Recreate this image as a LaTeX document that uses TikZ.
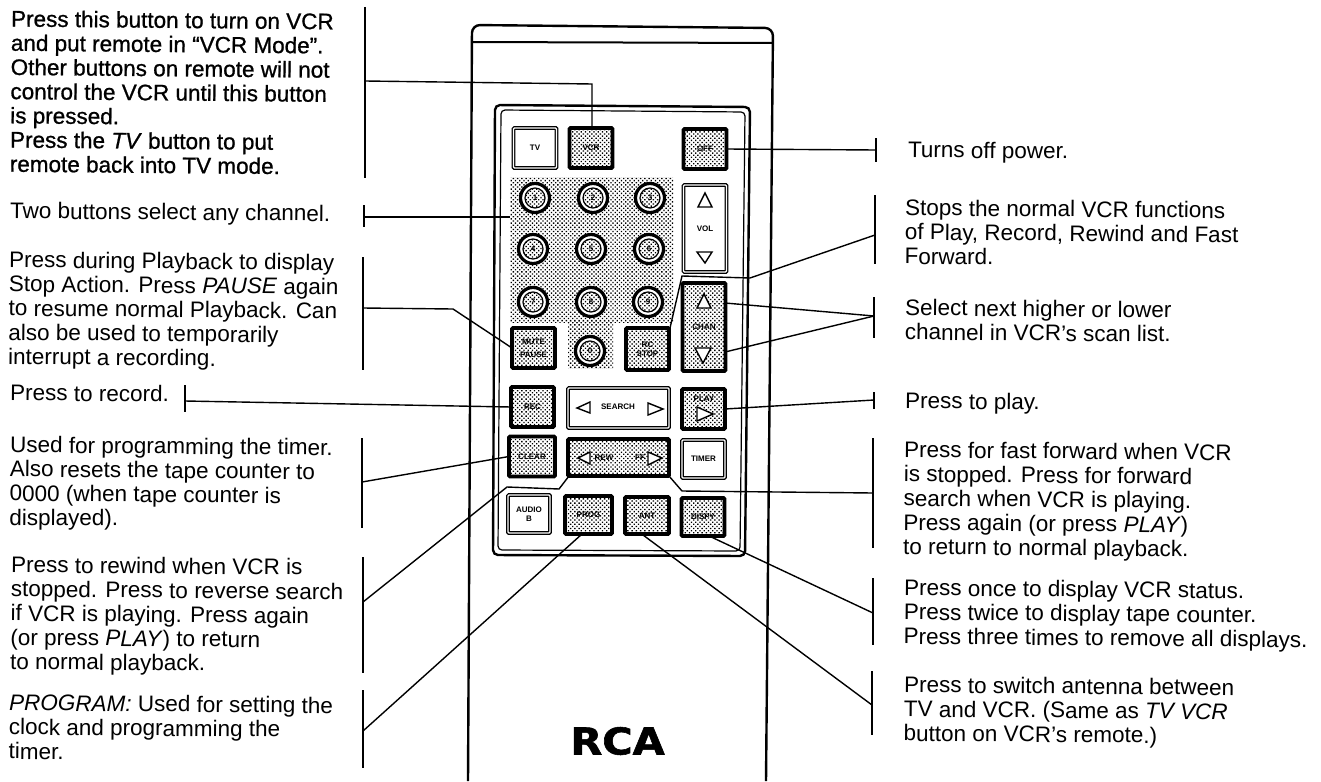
\documentclass[tikz,border=0pt]{standalone}
\usepackage{fontspec}
\setmainfont{Liberation Sans}
\newfontfamily\heavyfont[FakeBold=0.9]{Liberation Sans}
\newfontfamily\logofont[FakeBold=1.5]{DejaVu Sans Bold}
\usetikzlibrary{patterns.meta}
\tikzset{
    stipplefill/.style={pattern={Dots[radius=0.95pt,distance=3pt,angle=45]}},
    caption/.style={anchor=north west, inner sep=0pt, align=left, rotate=-0.5, font=\fontsize{22.5}{24.2}\selectfont},
    leader/.style={line width=1.4pt},
    shell/.style={line width=2.4pt, rounded corners=8pt},
    btn/.style={rectangle, inner sep=0pt, outer sep=0pt, align=center, minimum width=43pt, minimum height=40pt, font=\fontsize{8}{9}\selectfont\bfseries},
    darkbtn/.style={btn, draw, line width=3.8pt, rounded corners=1pt, stipplefill},
    whitebtn/.style={btn, draw, fill=white, line width=1.3pt, double, double distance=1.3pt, rounded corners=1pt},
    stipple/.style={rectangle, inner sep=0pt, outer sep=0pt, stipplefill},
    keybtn/.style={circle, draw, fill=white, inner sep=0pt, minimum size=29pt, line width=3.2pt},
    keyring/.style={circle, draw, inner sep=0pt, minimum size=20pt, line width=1.2pt, stipplefill, font=\fontsize{8}{9}\selectfont\bfseries},
    btnlabel/.style={inner sep=0pt, font=\fontsize{8}{9}\selectfont\bfseries},
    arrowtip/.style={draw, fill=white, line width=1.4pt, line join=miter}
}
\begin{document}
\begin{tikzpicture}[x=1pt,y=-1pt]
    \useasboundingbox (0,0) rectangle (1321,781);

    %Gehaeuse
    \draw[shell] (468,781) -- (472,25) -- (773,28) -- (766,781);
    \draw[line width=2pt] (472,42) -- (773,43);
    %Tastenfeld
    \draw[line width=2.4pt, rounded corners=5pt] (495,105) -- (750,107) -- (745,556) -- (493,555) -- cycle;
    \draw[line width=1.2pt, rounded corners=4pt] (501,110) -- (745,112) -- (740,551) -- (498,550) -- cycle;

    %Zahlenblock
    \node[stipple, minimum width=163pt, minimum height=145pt] (keypad) at (591.5,249.5) {};
    \node[stipple, minimum width=45pt, minimum height=47pt] (keylow) at (590.5,345) {};
    \foreach \name/\x/\y in {1/535/198, 2/593/198, 3/650/198, 4/533/249, 5/591/249, 6/649/249, 7/533/302, 8/591/302, 9/648/302, 0/590/351} {
        \node[keybtn] (key\name) at (\x,\y) {};
        \node[keyring] at (key\name) {\name};
    }

    %Tasten
    \node[whitebtn] (tv) at (535,148) {TV};
    \node[darkbtn] (vcr) at (591,148) {VCR};
    \node[darkbtn] (off) at (705,149) {OFF};
    \node[whitebtn, minimum height=87pt] (vol) at (705,228.5) {VOL};
    \node[darkbtn, minimum height=88pt] (chan) at (704,327) {CHAN};
    \node[darkbtn] (mute) at (533.5,348) {MUTE\\[4pt]PAUSE};
    \node[darkbtn, minimum height=42pt] (stop) at (647.5,349) {RC\\STOP};
    \node[darkbtn] (rec) at (532.5,407) {REC};
    \node[whitebtn, minimum width=101pt] (search) at (618.5,408) {};
    \node[darkbtn] (play) at (703.5,409) {};
    \node[darkbtn, minimum width=46pt] (clear) at (532,456.5) {CLEAR};
    \node[darkbtn, minimum width=101pt, minimum height=37pt] (rew) at (618.5,457.5) {};
    \node[whitebtn, minimum height=38pt] (timer) at (703.5,459) {TIMER};
    \node[whitebtn, minimum width=42pt, minimum height=38pt] (audio) at (529,514) {AUDIO\\B};
    \node[darkbtn, minimum width=47pt, minimum height=38pt] (prog) at (588.5,515) {PROG};
    \node[darkbtn, minimum width=44pt, minimum height=37pt] (ant) at (647,515.5) {ANT};
    \node[darkbtn, minimum height=38pt] (dispy) at (703,517) {DISPY};

    %Beschriftung der Tasten
    \node[btnlabel] (searchtext) at (618,407) {SEARCH};
    \node[btnlabel] (playtext) at (704,399) {PLAY};
    \node[btnlabel] (rewtext) at (604,458) {REW};
    \node[btnlabel] (fftext) at (640,458) {FF};

    %Pfeile
    \draw[arrowtip] (705,193) -- (712,207) -- (698,207) -- cycle;
    \draw[arrowtip] (697,252) -- (712,252) -- (705,263) -- cycle;
    \draw[arrowtip] (704,294) -- (711,308) -- (697,308) -- cycle;
    \draw[arrowtip] (695,348) -- (711,348) -- (703,363) -- cycle;
    \draw[arrowtip] (577,408) -- (590,402) -- (590,413) -- cycle;
    \draw[arrowtip] (648,403) -- (663,409) -- (648,415) -- cycle;
    \draw[arrowtip] (697,407) -- (713,414) -- (697,421) -- cycle;
    \draw[arrowtip] (578,458) -- (590,452) -- (590,464) -- cycle;
    \draw[arrowtip] (648,452) -- (662,458) -- (648,465) -- cycle;

    \node[inner sep=0pt, xscale=1.12, font=\fontsize{37}{37}\logofont] (logo) at (617.5,741) {RCA};

    %Striche neben den Texten
    \foreach \name/\x/\ya/\yb/\ym in {pvcr/365/7/178/81, pkeys/364/205/227/217, pmute/363/257/370/308, prec/185/385/412/401, pclear/362/438/528/482, prew/363/557/673/602, pprog/363/690/768/731, poff/876/138/162/150, pstop/875/195/264/235, pchan/874/297/338/316, pplay/874/392/409/400, pff/873/438/548/493, pdisp/873/578/645/613, pant/872/671/735/705} {
        \draw[leader] (\x,\ya) -- (\x,\yb);
        \coordinate (\name) at (\x,\ym);
    }

    %Verbindungen links
    \coordinate (vcrbend) at (592,84);
    \coordinate (mutebend) at (453,309);
    \coordinate (rewbendA) at (507,487);
    \coordinate (rewbendB) at (559,489);
    \coordinate (rewleft) at (569,476);
    \coordinate (progbottom) at (582,534);
    \draw[leader] (pvcr) -- (vcrbend) -- (vcr.north -| vcrbend);
    \draw[leader] (pkeys) -- (pkeys -| keypad.west);
    \draw[leader] (pmute) -- (mutebend) -- (mute.west);
    \draw[leader] (prec) -- (rec.west);
    \draw[leader] (pclear) -- (clear.west);
    \draw[leader] (prew) -- (rewbendA) -- (rewbendB) -- (rewleft);
    \draw[leader] (pprog) -- (progbottom);

    %Verbindungen rechts
    \coordinate (stoptop) at (670,328);
    \coordinate (stopbendA) at (682,276);
    \coordinate (stopbendB) at (750,278);
    \coordinate (chanup) at (725,303);
    \coordinate (chandown) at (725,352);
    \coordinate (ffright) at (669,476);
    \coordinate (ffbend) at (682,491);
    \coordinate (dispbottom) at (707,535);
    \coordinate (antbottom) at (643,535);
    \draw[leader] (poff) -- (off.east);
    \draw[leader] (pstop) -- (stopbendB) -- (stopbendA) -- (stoptop);
    \draw[leader] (pchan) -- (chanup);
    \draw[leader] (pchan) -- (chandown);
    \draw[leader] (pplay) -- (play.east);
    \draw[leader] (pff) -- (ffbend) -- (ffright);
    \draw[leader] (pdisp) -- (dispbottom);
    \draw[leader] (pant) -- (antbottom);

    %Texte links
    \node[caption, font=\fontsize{22.5}{24.2}\heavyfont] (tvcr) at (11,10) {Press this button to turn on VCR\\and put remote in “VCR Mode”.\\Other buttons on remote will not\\control the VCR until this button\\is pressed.\\Press the \textit{TV} button to put\\remote back into TV mode.};
    \node[caption] (tkeys) at (10,202) {Two buttons select any channel.};
    \node[caption] (tmute) at (9,251) {Press during Playback to display\\Stop Action. Press \textit{PAUSE} again\\to resume normal Playback. Can\\also be used to temporarily\\interrupt a recording.};
    \node[caption] (trec) at (10,384) {Press to record.};
    \node[caption] (tclear) at (10,436) {Used for programming the timer.\\Also resets the tape counter to\\0000 (when tape counter is\\displayed).};
    \node[caption] (trew) at (11,556) {Press to rewind when VCR is\\stopped. Press to reverse search\\if VCR is playing. Press again\\(or press \textit{PLAY}) to return\\to normal playback.};
    \node[caption] (tprog) at (9,694) {\textit{PROGRAM:} Used for setting the\\clock and programming the\\timer.};

    %Texte rechts
    \node[caption] (toff) at (908,141) {Turns off power.};
    \node[caption] (tstop) at (905,199) {Stops the normal VCR functions\\of Play, Record, Rewind and Fast\\Forward.};
    \node[caption] (tchan) at (905,299) {Select next higher or lower\\channel in VCR's scan list.};
    \node[caption] (tplay) at (905,392) {Press to play.};
    \node[caption] (tff) at (904,441) {Press for fast forward when VCR\\is stopped. Press for forward\\search when VCR is playing.\\Press again (or press \textit{PLAY})\\to return to normal playback.};
    \node[caption] (tdisp) at (904,579) {Press once to display VCR status.\\Press twice to display tape counter.\\Press three times to remove all displays.};
    \node[caption] (tant) at (904,676) {Press to switch antenna between\\TV and VCR. (Same as \textit{TV VCR}\\button on VCR's remote.)};
\end{tikzpicture}
\end{document}
